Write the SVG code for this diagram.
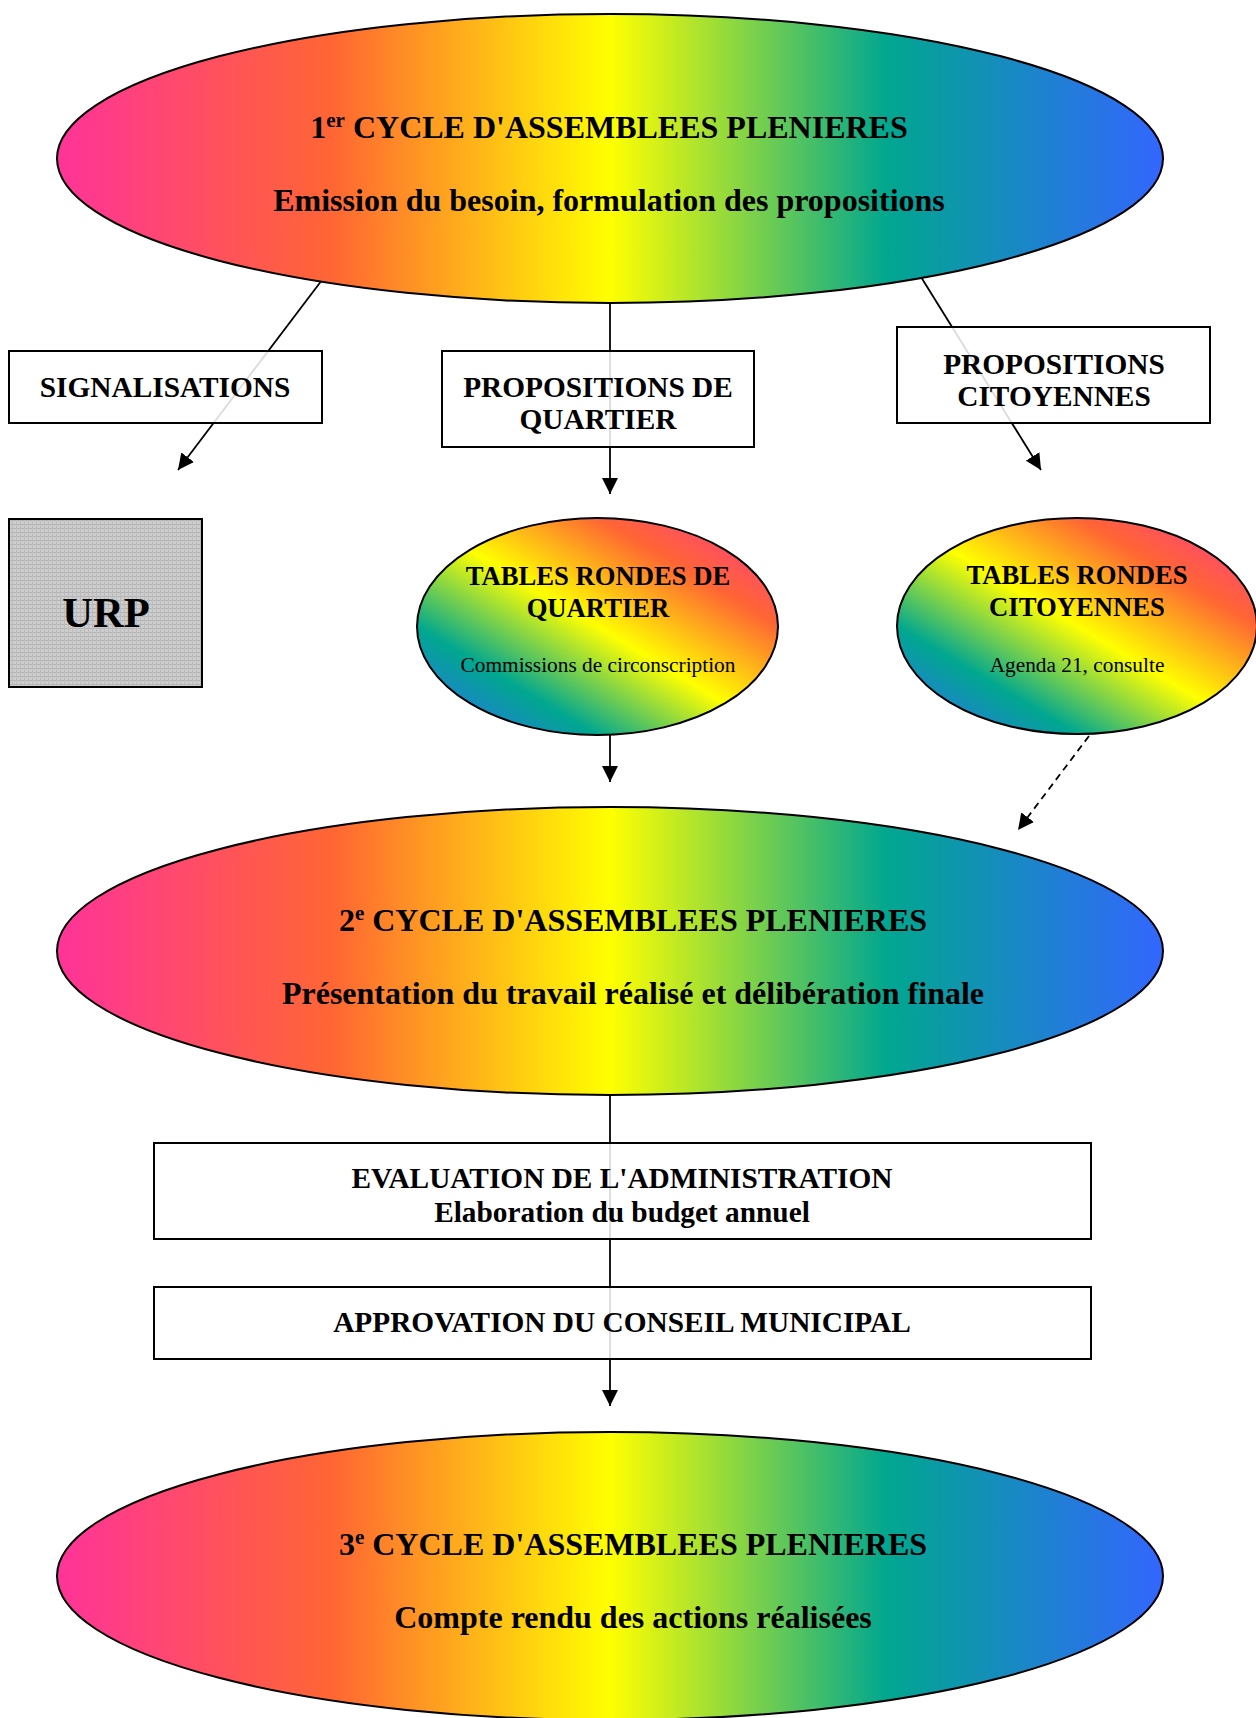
<svg xmlns="http://www.w3.org/2000/svg" width="1256" height="1718" viewBox="0 0 1256 1718">
<style>
  .t{font-family:"Liberation Serif","Times New Roman",serif;font-weight:bold;text-anchor:middle;fill:#000}
  .big-t{font-size:32px}
  .box-t{font-size:29.33px}
  .sm-t{font-size:26.67px}
  .sub-t{font-size:21.33px;font-weight:normal}
  .urp-t{font-size:42.67px}
  .box{fill:#fff;fill-opacity:0.86;stroke:#000;stroke-width:2}
  .big{fill:url(#rainbowH);stroke:#000;stroke-width:2}
  .small{fill:url(#rainbowD);stroke:#000;stroke-width:2}
  .conn{stroke:#000;stroke-width:1.8;fill:none}
</style>
<defs>
  <linearGradient id="rainbowH" x1="0" y1="0" x2="1" y2="0">
    <stop offset="0" stop-color="#FF3399"/>
    <stop offset="0.25" stop-color="#FF6633"/>
    <stop offset="0.5" stop-color="#FFFF00"/>
    <stop offset="0.75" stop-color="#01A78F"/>
    <stop offset="1" stop-color="#3366FF"/>
  </linearGradient>
  <linearGradient id="rainbowD" x1="1" y1="0" x2="0" y2="1">
    <stop offset="0" stop-color="#FF3399"/>
    <stop offset="0.25" stop-color="#FF6633"/>
    <stop offset="0.5" stop-color="#FFFF00"/>
    <stop offset="0.75" stop-color="#01A78F"/>
    <stop offset="1" stop-color="#3366FF"/>
  </linearGradient>
  <pattern id="grid" width="4" height="4" patternUnits="userSpaceOnUse">
    <rect width="4" height="4" fill="#cdcdcd"/>
    <rect width="4" height="1" fill="#b4b4b4"/>
    <rect width="1" height="4" fill="#bcbcbc"/>
  </pattern>
  <marker id="arrow" viewBox="0 0 16 16" refX="16" refY="8" markerWidth="16" markerHeight="16" markerUnits="userSpaceOnUse" orient="auto">
    <path d="M0,0 L16,8 L0,16 Z" fill="#000"/>
  </marker>
</defs>

<g id="connectors">
  <line class="conn" x1="322" y1="280" x2="178" y2="470" marker-end="url(#arrow)"/>
  <line class="conn" x1="610" y1="303" x2="610" y2="494" marker-end="url(#arrow)"/>
  <line class="conn" x1="921" y1="277" x2="1041" y2="470" marker-end="url(#arrow)"/>
  <line class="conn" x1="610" y1="735" x2="610" y2="782" marker-end="url(#arrow)"/>
  <line class="conn" x1="1089" y1="736" x2="1018" y2="830" stroke-dasharray="7,5" marker-end="url(#arrow)"/>
  <line class="conn" x1="610" y1="1095" x2="610" y2="1406" marker-end="url(#arrow)"/>
</g>

<g id="cycle1">
  <ellipse class="big" cx="610" cy="158.5" rx="553" ry="144.5"/>
  <text class="t big-t" x="609" y="138">1<tspan font-size="21" dy="-11">er</tspan><tspan dy="11"> CYCLE D'ASSEMBLEES PLENIERES</tspan></text>
  <text class="t big-t" x="609" y="211">Emission du besoin, formulation des propositions</text>
</g>

<g id="signalisations">
  <rect class="box" x="9" y="351" width="313" height="72"/>
  <text class="t box-t" x="165" y="397">SIGNALISATIONS</text>
</g>

<g id="propositions-quartier">
  <rect class="box" x="442" y="351" width="312" height="96"/>
  <text class="t box-t" x="598" y="397">PROPOSITIONS DE</text>
  <text class="t box-t" x="598" y="429">QUARTIER</text>
</g>

<g id="propositions-citoyennes">
  <rect class="box" x="897" y="327" width="313" height="96"/>
  <text class="t box-t" x="1054" y="374">PROPOSITIONS</text>
  <text class="t box-t" x="1054" y="406">CITOYENNES</text>
</g>

<g id="urp">
  <rect x="9" y="519" width="193" height="168" fill="url(#grid)" stroke="#000" stroke-width="2"/>
  <text class="t urp-t" x="106" y="627">URP</text>
</g>

<g id="tables-quartier">
  <ellipse class="small" cx="597.5" cy="626.5" rx="180.5" ry="108.5"/>
  <text class="t sm-t" x="598" y="585">TABLES RONDES DE</text>
  <text class="t sm-t" x="598" y="617">QUARTIER</text>
  <text class="t sub-t" x="598" y="672">Commissions de circonscription</text>
</g>

<g id="tables-citoyennes">
  <ellipse class="small" cx="1077" cy="626" rx="180" ry="108"/>
  <text class="t sm-t" x="1077" y="584">TABLES RONDES</text>
  <text class="t sm-t" x="1077" y="616">CITOYENNES</text>
  <text class="t sub-t" x="1077" y="672">Agenda 21, consulte</text>
</g>

<g id="cycle2">
  <ellipse class="big" cx="610" cy="951" rx="553" ry="144"/>
  <text class="t big-t" x="633" y="931">2<tspan font-size="21" dy="-11">e</tspan><tspan dy="11"> CYCLE D'ASSEMBLEES PLENIERES</tspan></text>
  <text class="t big-t" x="633" y="1004">Présentation du travail réalisé et délibération finale</text>
</g>

<g id="evaluation">
  <rect class="box" x="154" y="1143" width="937" height="96"/>
  <text class="t box-t" x="622" y="1188">EVALUATION DE L'ADMINISTRATION</text>
  <text class="t box-t" x="622" y="1222">Elaboration du budget annuel</text>
</g>

<g id="approbation">
  <rect class="box" x="154" y="1287" width="937" height="72"/>
  <text class="t box-t" x="622" y="1332">APPROVATION DU CONSEIL MUNICIPAL</text>
</g>

<g id="cycle3">
  <ellipse class="big" cx="610" cy="1576" rx="553" ry="144"/>
  <text class="t big-t" x="633" y="1555">3<tspan font-size="21" dy="-11">e</tspan><tspan dy="11"> CYCLE D'ASSEMBLEES PLENIERES</tspan></text>
  <text class="t big-t" x="633" y="1628">Compte rendu des actions réalisées</text>
</g>
</svg>
